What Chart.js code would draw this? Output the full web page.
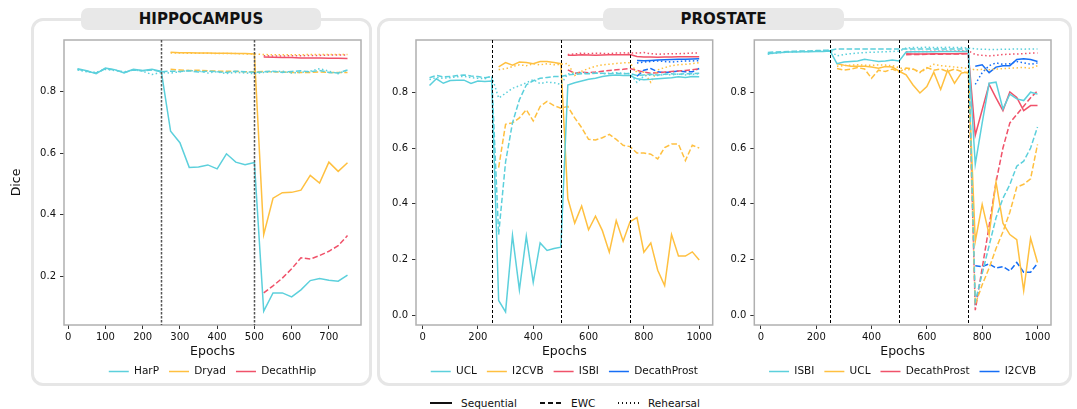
<!DOCTYPE html>
<html><head><meta charset="utf-8">
<script src="https://cdn.jsdelivr.net/npm/chart.js@4.4.1/dist/chart.umd.min.js"></script>
<style>
html,body{margin:0;padding:0;background:#fff;}
body{width:1077px;height:409px;position:relative;overflow:hidden;font-family:"DejaVu Sans",sans-serif;}
.panel{position:absolute;border:3px solid #e6e6e6;border-radius:12px;box-sizing:border-box;background:#fff;}
.tab{position:absolute;background:#e8e8e8;border-radius:7px;font-weight:bold;font-size:15px;text-align:center;line-height:22px;color:#111;}
.cv{position:absolute;}
.mi{position:absolute;top:396px;font-size:10.5px;line-height:14px;color:#111;}
.ml{position:absolute;top:402px;width:22px;height:1.5px;}
</style></head>
<body>
<div class="panel" style="left:31px;top:18px;width:341px;height:368px"></div>
<div class="panel" style="left:377px;top:18px;width:695px;height:368px"></div>
<div class="tab" style="left:81px;top:8px;width:240px;height:22px">HIPPOCAMPUS</div>
<div class="tab" style="left:603px;top:8px;width:241px;height:22px">PROSTATE</div>
<div class="cv" style="left:0px;top:30px;width:372px;height:360px"><canvas id="c1"></canvas></div>
<div class="cv" style="left:380px;top:30px;width:336px;height:360px"><canvas id="c2"></canvas></div>
<div class="cv" style="left:718px;top:30px;width:340px;height:360px"><canvas id="c3"></canvas></div>
<div class="ml" style="left:430px;background:#111"></div><div class="mi" style="left:461px">Sequential</div>
<div class="ml" style="left:540px;background:repeating-linear-gradient(to right,#111 0 5.5px,transparent 5.5px 8px)"></div><div class="mi" style="left:571px">EWC</div>
<div class="ml" style="left:618px;background:repeating-linear-gradient(to right,#111 0 1.5px,transparent 1.5px 4px)"></div><div class="mi" style="left:648px">Rehearsal</div>
<script>
const _ = null;
// ---------- categories ----------
const epochsHip = [25,50,75,100,125,150,175,200,225,250,275,300,325,350,375,400,425,450,475,500,525,550,575,600,625,650,675,700,725,750];
const epochsPro = [25,50,75,100,125,150,175,200,225,250,275,300,325,350,375,400,425,450,475,500,525,550,575,600,625,650,675,700,725,750,775,800,825,850,875,900,925,950,975,1000];
const hipBoundaries = [250,500];
const proBoundaries = [250,500,750];
const hipXTicks = [0,100,200,300,400,500,600,700];
const proXTicks = [0,200,400,600,800,1000];
const hipYTicks = [0.2,0.4,0.6,0.8];
const proYTicks = [0.0,0.2,0.4,0.6,0.8];

// ---------- HIPPOCAMPUS ----------
const hipHarP_seq = [0.874,0.867,0.858,0.876,0.871,0.860,0.872,0.868,0.872,0.865, 0.671,0.634,0.554,0.555,0.562,0.549,0.598,0.571,0.563,0.570, 0.088,0.147,0.147,0.134,0.157,0.187,0.194,0.188,0.185,0.205];
const hipHarP_ewc = [0.872,0.866,0.860,0.874,0.870,0.862,0.870,0.867,0.870,0.864, 0.866,0.865,0.867,0.863,0.866,0.864,0.862,0.866,0.864,0.862, 0.864,0.866,0.862,0.865,0.867,0.864,0.868,0.862,0.860,0.870];
const hipHarP_reh = [0.870,0.864,0.862,0.872,0.868,0.864,0.870,0.866,0.855,0.862, 0.860,0.864,0.868,0.866,0.860,0.864,0.858,0.862,0.860,0.858, 0.862,0.864,0.866,0.860,0.862,0.866,0.874,0.866,0.858,0.870];
const hipDryad_seq = [_,_,_,_,_,_,_,_,_,_, 0.927,0.926,0.926,0.925,0.925,0.924,0.924,0.923,0.923,0.922, 0.336,0.454,0.472,0.473,0.480,0.528,0.503,0.571,0.541,0.569];
const hipDryad_ewc = [_,_,_,_,_,_,_,_,_,_, 0.872,0.870,0.868,0.869,0.867,0.866,0.866,0.865,0.864,0.864, 0.865,0.864,0.863,0.862,0.862,0.862,0.863,0.862,0.862,0.862];
const hipDryad_reh = [_,_,_,_,_,_,_,_,_,_, 0.925,0.925,0.924,0.924,0.924,0.923,0.923,0.923,0.922,0.922, 0.920,0.919,0.919,0.919,0.919,0.920,0.920,0.920,0.920,0.920];
const hipDecath_seq = [_,_,_,_,_,_,_,_,_,_, _,_,_,_,_,_,_,_,_,_, 0.912,0.911,0.910,0.910,0.909,0.909,0.909,0.908,0.908,0.907];
const hipDecath_ewc = [_,_,_,_,_,_,_,_,_,_, _,_,_,_,_,_,_,_,_,_, 0.147,0.170,0.195,0.225,0.261,0.257,0.268,0.282,0.300,0.333];
const hipDecath_reh = [_,_,_,_,_,_,_,_,_,_, _,_,_,_,_,_,_,_,_,_, 0.916,0.915,0.915,0.916,0.916,0.917,0.917,0.918,0.918,0.918];

// ---------- PROSTATE (order UCL, I2CVB, ISBI, DecathProst) ----------
const p1UCL_seq = [0.824,0.848,0.832,0.842,0.843,0.843,0.831,0.840,0.838,0.840, 0.054,0.013,0.287,0.092,0.284,0.119,0.260,0.233,0.240,0.245, 0.826,0.834,0.840,0.846,0.850,0.856,0.860,0.862,0.860,0.860, 0.848,0.845,0.846,0.848,0.850,0.852,0.855,0.853,0.856,0.855];
const p1UCL_ewc = [0.852,0.860,0.855,0.856,0.860,0.862,0.858,0.856,0.852,0.856, 0.290,0.550,0.690,0.773,0.826,0.841,0.850,0.853,0.856,0.856, 0.862,0.864,0.866,0.866,0.868,0.868,0.866,0.868,0.866,0.867, 0.860,0.862,0.864,0.862,0.864,0.866,0.864,0.866,0.866,0.868];
const p1UCL_reh = [0.845,0.853,0.850,0.852,0.855,0.857,0.852,0.850,0.848,0.858, 0.779,0.796,0.814,0.823,0.834,0.845,0.831,0.836,0.834,0.828, 0.866,0.868,0.870,0.868,0.870,0.866,0.868,0.870,0.868,0.866, 0.835,0.858,0.862,0.860,0.864,0.862,0.865,0.862,0.864,0.866];
const p1I2CVB_seq = [_,_,_,_,_,_,_,_,_,_, 0.891,0.906,0.897,0.908,0.906,0.902,0.910,0.910,0.906,0.902, 0.419,0.331,0.392,0.307,0.356,0.304,0.227,0.340,0.266,0.336, 0.351,0.227,0.260,0.162,0.107,0.290,0.213,0.213,0.228,0.199];
const p1I2CVB_ewc = [_,_,_,_,_,_,_,_,_,_, 0.530,0.685,0.690,0.708,0.737,0.697,0.749,0.767,0.752,0.743, 0.749,0.708,0.673,0.631,0.629,0.637,0.649,0.631,0.610,0.605, 0.582,0.582,0.578,0.561,0.602,0.614,0.614,0.555,0.610,0.600];
const p1I2CVB_reh = [_,_,_,_,_,_,_,_,_,_, 0.881,0.884,0.892,0.898,0.895,0.902,0.898,0.902,0.898,0.900, 0.903,0.860,0.875,0.885,0.893,0.898,0.900,0.903,0.905,0.906, 0.870,0.872,0.835,0.880,0.888,0.895,0.898,0.900,0.902,0.906];
const p1ISBI_seq = [_,_,_,_,_,_,_,_,_,_, _,_,_,_,_,_,_,_,_,_, 0.932,0.932,0.934,0.933,0.932,0.933,0.934,0.934,0.934,0.935, 0.928,0.926,0.926,0.925,0.926,0.926,0.927,0.927,0.927,0.927];
const p1ISBI_ewc = [_,_,_,_,_,_,_,_,_,_, _,_,_,_,_,_,_,_,_,_, 0.880,0.868,0.872,0.870,0.872,0.875,0.878,0.880,0.882,0.885, 0.878,0.872,0.868,0.870,0.872,0.874,0.876,0.878,0.880,0.884];
const p1ISBI_reh = [_,_,_,_,_,_,_,_,_,_, _,_,_,_,_,_,_,_,_,_, 0.935,0.937,0.940,0.938,0.940,0.939,0.938,0.940,0.941,0.940, 0.940,0.942,0.938,0.936,0.937,0.938,0.938,0.939,0.940,0.940];
const p1Decath_seq = [_,_,_,_,_,_,_,_,_,_, _,_,_,_,_,_,_,_,_,_, _,_,_,_,_,_,_,_,_,_, 0.914,0.913,0.914,0.915,0.916,0.917,0.918,0.918,0.919,0.920];
const p1Decath_ewc = [_,_,_,_,_,_,_,_,_,_, _,_,_,_,_,_,_,_,_,_, _,_,_,_,_,_,_,_,_,_, 0.857,0.879,0.885,0.873,0.870,0.873,0.876,0.873,0.873,0.885];
const p1Decath_reh = [_,_,_,_,_,_,_,_,_,_, _,_,_,_,_,_,_,_,_,_, _,_,_,_,_,_,_,_,_,_, 0.905,0.908,0.910,0.912,0.910,0.908,0.910,0.912,0.912,0.913];

// ---------- PROSTATE (order ISBI, UCL, DecathProst, I2CVB) ----------
const p2ISBI_seq = [0.938,0.940,0.942,0.944,0.944,0.945,0.945,0.946,0.946,0.948, 0.902,0.908,0.910,0.912,0.918,0.914,0.910,0.912,0.915,0.912, 0.944,0.945,0.945,0.945,0.945,0.946,0.946,0.946,0.946,0.947, 0.542,0.690,0.832,0.836,0.740,0.793,0.776,0.770,0.800,0.793];
const p2ISBI_ewc = [0.942,0.944,0.945,0.946,0.947,0.948,0.948,0.949,0.950,0.950, 0.955,0.955,0.955,0.955,0.955,0.955,0.955,0.955,0.955,0.955, 0.955,0.955,0.955,0.955,0.955,0.955,0.955,0.955,0.955,0.955, 0.050,0.150,0.250,0.350,0.420,0.469,0.535,0.553,0.600,0.675];
const p2ISBI_reh = [0.936,0.940,0.942,0.944,0.945,0.946,0.946,0.947,0.948,0.950, 0.930,0.935,0.938,0.940,0.942,0.943,0.944,0.945,0.946,0.947, 0.958,0.960,0.960,0.961,0.960,0.960,0.961,0.960,0.960,0.958, 0.955,0.954,0.953,0.953,0.954,0.954,0.955,0.954,0.955,0.955];
const p2UCL_seq = [_,_,_,_,_,_,_,_,_,_, 0.902,0.897,0.893,0.893,0.893,0.890,0.886,0.892,0.890,0.875, 0.862,0.826,0.797,0.820,0.872,0.810,0.879,0.832,0.869,0.872, 0.266,0.398,0.290,0.478,0.331,0.290,0.272,0.089,0.277,0.190];
const p2UCL_ewc = [_,_,_,_,_,_,_,_,_,_, 0.885,0.879,0.883,0.888,0.883,0.850,0.879,0.874,0.883,0.872, 0.887,0.883,0.872,0.888,0.879,0.883,0.874,0.883,0.874,0.868, 0.040,0.110,0.170,0.240,0.300,0.370,0.460,0.470,0.490,0.613];
const p2UCL_reh = [_,_,_,_,_,_,_,_,_,_, 0.893,0.895,0.897,0.898,0.897,0.896,0.898,0.897,0.895,0.888, 0.880,0.882,0.870,0.885,0.900,0.895,0.893,0.890,0.888,0.885, 0.880,0.882,0.880,0.883,0.884,0.886,0.887,0.889,0.885,0.895];
const p2Decath_seq = [_,_,_,_,_,_,_,_,_,_, _,_,_,_,_,_,_,_,_,_, 0.938,0.937,0.937,0.937,0.938,0.938,0.938,0.938,0.939,0.939, 0.646,0.737,0.828,0.780,0.734,0.801,0.781,0.734,0.752,0.752];
const p2Decath_ewc = [_,_,_,_,_,_,_,_,_,_, _,_,_,_,_,_,_,_,_,_, 0.934,0.935,0.935,0.936,0.936,0.936,0.937,0.937,0.937,0.938, 0.019,0.170,0.320,0.478,0.600,0.690,0.720,0.750,0.780,0.805];
const p2Decath_reh = [_,_,_,_,_,_,_,_,_,_, _,_,_,_,_,_,_,_,_,_, 0.945,0.946,0.946,0.946,0.947,0.947,0.947,0.947,0.948,0.948, 0.935,0.932,0.930,0.932,0.935,0.936,0.937,0.938,0.940,0.940];
const p2I2CVB_seq = [_,_,_,_,_,_,_,_,_,_, _,_,_,_,_,_,_,_,_,_, _,_,_,_,_,_,_,_,_,_, 0.893,0.898,0.870,0.890,0.895,0.895,0.917,0.920,0.917,0.910];
const p2I2CVB_ewc = [_,_,_,_,_,_,_,_,_,_, _,_,_,_,_,_,_,_,_,_, _,_,_,_,_,_,_,_,_,_, 0.178,0.175,0.185,0.170,0.175,0.160,0.190,0.155,0.155,0.187];
const p2I2CVB_reh = [_,_,_,_,_,_,_,_,_,_, _,_,_,_,_,_,_,_,_,_, _,_,_,_,_,_,_,_,_,_, 0.828,0.870,0.895,0.905,0.900,0.902,0.910,0.905,0.900,0.905];

// ---------- styling ----------
const CYAN = 'rgb(92,208,220)', YELLOW = 'rgb(255,192,64)', RED = 'rgb(240,82,106)', BLUE = 'rgb(22,110,245)';
const FONT = '"DejaVu Sans", sans-serif';
const DASH = {Sequential: [], EWC: [5.5, 2.4], Rehearsal: [1.5, 2.5]};

function trio(label, color, seq, ewc, reh) {
  return [
    {label, color, method: 'Sequential', values: seq},
    {label, color, method: 'EWC', values: ewc},
    {label, color, method: 'Rehearsal', values: reh}
  ];
}

const framePlugin = {
  id: 'frame',
  beforeDatasetsDraw(chart) {
    const {ctx, chartArea: a} = chart;
    ctx.save(); ctx.strokeStyle = '#b0b0b0'; ctx.lineWidth = 1.5;
    ctx.strokeRect(a.left, a.top, a.right - a.left, a.bottom - a.top);
    ctx.restore();
  }
};
const taskLinePlugin = {
  id: 'taskLines',
  afterDatasetsDraw(chart, args, opts) {
    const {ctx, chartArea: {top, bottom}, scales: {x}} = chart;
    ctx.save(); ctx.strokeStyle = opts.color; ctx.lineWidth = opts.width; ctx.setLineDash(opts.dash);
    (opts.boundaries || []).forEach(b => {
      const px = Math.round(x.getPixelForValue(b)) + 0.5;
      ctx.beginPath(); ctx.moveTo(px, top); ctx.lineTo(px, bottom); ctx.stroke();
    });
    ctx.restore();
  }
};

function build(id, cfg) {
  const datasets = cfg.series.map(s => ({
    label: s.label, method: s.method,
    data: cfg.epochs.map((e, i) => ({x: e, y: s.values[i]})),
    borderColor: s.color, backgroundColor: s.color,
    borderWidth: 1.5, borderDash: DASH[s.method],
    pointRadius: 0, pointHoverRadius: 0, tension: 0, fill: false, spanGaps: false
  }));
  const tickFont = {family: FONT, size: 10};
  const grid = {display: true, drawOnChartArea: false, drawTicks: true, tickLength: 4, color: '#333', lineWidth: 1};
  return new Chart(document.getElementById(id), {
    type: 'line',
    data: {datasets},
    options: {
      animation: false, responsive: true, maintainAspectRatio: false, devicePixelRatio: 1, events: [],
      layout: {padding: cfg.padding},
      plugins: {
        tooltip: {enabled: false},
        legend: {
          position: 'bottom', fullSize: false,
          labels: {
            usePointStyle: true, pointStyle: 'line', pointStyleWidth: 20, padding: 10,
            font: {family: FONT, size: 10.5}, color: '#111',
            filter: (item, data) => data.datasets[item.datasetIndex].method === 'Sequential'
          }
        },
        taskLines: {boundaries: cfg.boundaries, color: cfg.vColor, width: cfg.vWidth, dash: cfg.vDash}
      },
      scales: {
        x: {
          type: 'linear', min: cfg.xMin, max: cfg.xMax,
          afterBuildTicks: s => { s.ticks = cfg.xTicks.map(v => ({value: v})); },
          afterFit: s => { s.height = 31.25; },
          ticks: {font: tickFont, color: '#111', padding: 2, maxRotation: 0, callback: v => String(v)},
          grid, border: {display: false},
          title: {display: true, text: 'Epochs', font: {family: FONT, size: 12.5}, color: '#111', padding: {top: 0, bottom: -3.25}}
        },
        y: {
          type: 'linear', min: cfg.yMin, max: cfg.yMax,
          afterBuildTicks: s => { s.ticks = cfg.yTicks.map(v => ({value: v})); },
          afterFit: s => { s.width = cfg.yWidth; },
          ticks: {font: tickFont, color: '#111', padding: 4, callback: v => Number(v).toFixed(1)},
          grid, border: {display: false},
          title: {display: !!cfg.yTitle, text: cfg.yTitle || '', font: {family: FONT, size: 12.5}, color: '#111', padding: {top: 9.5, bottom: 0}}
        }
      }
    },
    plugins: [framePlugin, taskLinePlugin]
  });
}

build('c1', {
  epochs: epochsHip,
  series: [].concat(
    trio('HarP', CYAN, hipHarP_seq, hipHarP_ewc, hipHarP_reh),
    trio('Dryad', YELLOW, hipDryad_seq, hipDryad_ewc, hipDryad_reh),
    trio('DecathHip', RED, hipDecath_seq, hipDecath_ewc, hipDecath_reh)),
  boundaries: hipBoundaries, xTicks: hipXTicks, yTicks: hipYTicks,
  xMin: -11.25, xMax: 786.25, yMin: 0.043, yMax: 0.967,
  yWidth: 64, yTitle: 'Dice',
  padding: {top: 6, right: 11, left: 0, bottom: 3.25},
  vColor: '#555', vWidth: 1.5, vDash: [2.5, 1.5]
});
build('c2', {
  epochs: epochsPro,
  series: [].concat(
    trio('UCL', CYAN, p1UCL_seq, p1UCL_ewc, p1UCL_reh),
    trio('I2CVB', YELLOW, p1I2CVB_seq, p1I2CVB_ewc, p1I2CVB_reh),
    trio('ISBI', RED, p1ISBI_seq, p1ISBI_ewc, p1ISBI_reh),
    trio('DecathProst', BLUE, p1Decath_seq, p1Decath_ewc, p1Decath_reh)),
  boundaries: proBoundaries, xTicks: proXTicks, yTicks: proYTicks,
  xMin: -23.75, xMax: 1048.75, yMin: -0.034, yMax: 0.987,
  yWidth: 36, yTitle: null,
  padding: {top: 6, right: 3.3, left: 0, bottom: 3.25},
  vColor: '#000', vWidth: 1, vDash: [3, 2]
});
build('c3', {
  epochs: epochsPro,
  series: [].concat(
    trio('ISBI', CYAN, p2ISBI_seq, p2ISBI_ewc, p2ISBI_reh),
    trio('UCL', YELLOW, p2UCL_seq, p2UCL_ewc, p2UCL_reh),
    trio('DecathProst', RED, p2Decath_seq, p2Decath_ewc, p2Decath_reh),
    trio('I2CVB', BLUE, p2I2CVB_seq, p2I2CVB_ewc, p2I2CVB_reh)),
  boundaries: proBoundaries, xTicks: proXTicks, yTicks: proYTicks,
  xMin: -23.75, xMax: 1048.75, yMin: -0.034, yMax: 0.987,
  yWidth: 36.3, yTitle: null,
  padding: {top: 6, right: 7, left: 0, bottom: 3.25},
  vColor: '#000', vWidth: 1, vDash: [3, 2]
});
</script>
</body></html>
